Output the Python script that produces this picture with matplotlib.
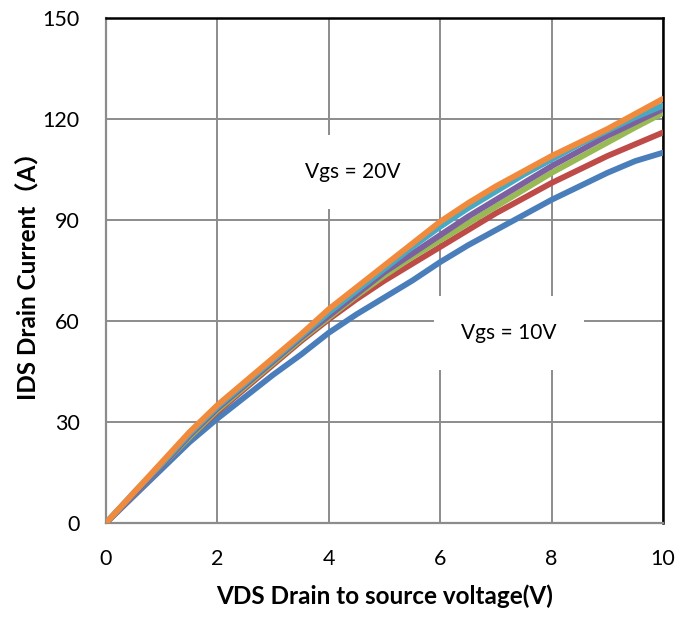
import numpy as np
import matplotlib.pyplot as plt

# drain voltage sweep (V)
vds = [0, 0.5, 1, 1.5, 2, 2.5, 3, 3.5, 4, 4.5, 5, 5.5, 6, 6.5, 7, 7.5, 8, 8.5, 9, 9.5, 10]

# drain current (A) for each gate drive
ids_blue   = [0, 8, 16, 24, 31, 37.5, 44, 50, 56.5, 62, 67, 72, 77.5, 82.5, 87, 91.5, 96, 100, 104, 107.5, 110]
ids_red    = [0, 8.5, 17, 25.5, 33, 40, 47, 54, 60.5, 66.5, 72, 77, 82, 87, 92, 96.5, 101, 105, 109, 112.5, 116]
ids_green  = [0, 8.5, 17, 25.5, 33.5, 40.5, 47.5, 54.5, 61, 67.5, 73.5, 79, 84, 89, 94, 99, 104, 108.5, 113, 117.5, 121.8]
ids_purple = [0, 8.5, 17, 26, 34, 41, 48, 55, 61.5, 68, 74.5, 80, 85.5, 91, 96, 101, 106, 110.5, 115, 119, 123]
ids_aqua   = [0, 9, 17.5, 26.5, 34.5, 41.5, 48.5, 55.5, 62.5, 69, 75.5, 82, 88, 93.5, 98.5, 103.5, 108, 112.5, 116.5, 120.5, 124]
ids_orange = [0, 9, 18, 27, 35, 42, 49, 56, 63.5, 70, 76.5, 83, 89.5, 95, 100, 104.5, 109, 113, 117, 121.5, 126]

series = [ids_blue, ids_red, ids_green, ids_purple, ids_aqua, ids_orange]
colors = ['#4A7EBB', '#BE4B48', '#98B954', '#7D60A0', '#46AAC5', '#F08A3C']

xticks = [0, 2, 4, 6, 8, 10]
yticks = [0, 30, 60, 90, 120, 150]

plt.rcParams['font.family'] = ['Lato', 'Noto Sans CJK SC', 'DejaVu Sans']

fig = plt.figure(figsize=(6.94, 6.17), dpi=100)
ax = fig.add_axes([0.1527, 0.1524, 0.8026, 0.8184])

for ids, c in zip(series, colors):
    ax.plot(vds, ids, color=c, lw=4.2, solid_capstyle='round', zorder=3)

ax.set_xlim(0, 10)
ax.set_ylim(0, 150)
ax.set_xticks(xticks)
ax.set_yticks(yticks)
ax.tick_params(length=0, labelsize=15.5, pad=19)
ax.tick_params(axis='x', pad=19)
ax.grid(True, color='#8C8C8C', lw=1.4, zorder=0)
ax.set_axisbelow(True)

for side in ['left', 'bottom']:
    ax.spines[side].set_color('#8C8C8C')
    ax.spines[side].set_linewidth(1.6)
for side in ['top', 'right']:
    ax.spines[side].set_color('black')
    ax.spines[side].set_linewidth(1.8)

ax.set_xlabel('VDS Drain to source voltage(V)', fontsize=17.5, fontweight='bold', labelpad=11)
ax.set_ylabel('IDS Drain Current（A）', fontsize=17.5, fontweight='bold', labelpad=1)

box = dict(facecolor='white', edgecolor='none', boxstyle='square,pad=1.3')
ax.text(4.43, 104.2, 'Vgs = 20V', fontsize=15, ha='center', va='center', bbox=box, zorder=2)
ax.text(7.24, 56.4, 'Vgs = 10V', fontsize=15, ha='center', va='center', bbox=box, zorder=2)

fig.savefig('out.png', dpi=100)
